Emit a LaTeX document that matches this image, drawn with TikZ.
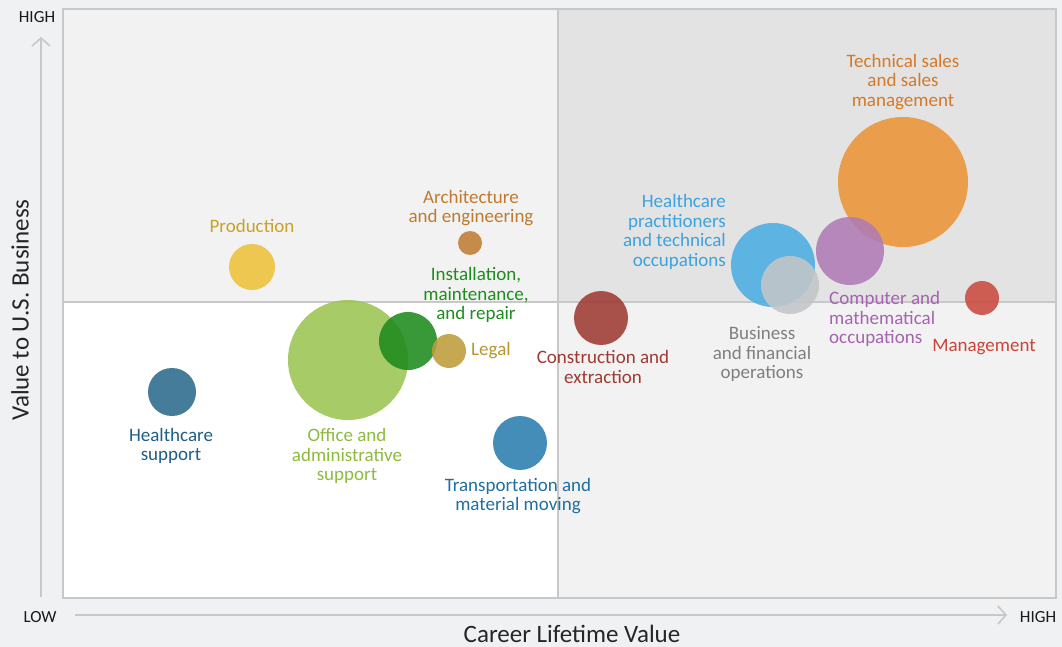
\documentclass[tikz,border=0pt]{standalone}
\usepackage{fontspec}
\setmainfont{Carlito}
\usetikzlibrary{arrows.meta}
\definecolor{bgout}{HTML}{F0F1F3}
\definecolor{qlight}{HTML}{F2F2F2}
\definecolor{qdark}{HTML}{E3E3E3}
\definecolor{frame}{HTML}{C8C8C8}
\definecolor{cProd}{HTML}{EDC23A}
\definecolor{tProd}{HTML}{C9A128}
\definecolor{cArch}{HTML}{C17C35}
\definecolor{tArch}{HTML}{C07A30}
\definecolor{cHcs}{HTML}{2B6A8C}
\definecolor{tHcs}{HTML}{1F5F87}
\definecolor{cOff}{HTML}{9BC553}
\definecolor{tOff}{HTML}{8CBB3D}
\definecolor{cInst}{HTML}{1E8B1E}
\definecolor{tInst}{HTML}{1E8C1E}
\definecolor{cLeg}{HTML}{BE9C3A}
\definecolor{tLeg}{HTML}{B8962E}
\definecolor{cTrans}{HTML}{2B7EB0}
\definecolor{tTrans}{HTML}{1F6FA0}
\definecolor{cCons}{HTML}{9E3B34}
\definecolor{tCons}{HTML}{9E3A33}
\definecolor{cHcp}{HTML}{4BAEE3}
\definecolor{tHcp}{HTML}{3BA3DE}
\definecolor{cBus}{HTML}{C3C6C8}
\definecolor{tBus}{HTML}{7F7F7F}
\definecolor{cComp}{HTML}{AF7BB5}
\definecolor{tComp}{HTML}{A563B0}
\definecolor{cTech}{HTML}{EB9536}
\definecolor{tTech}{HTML}{D37A28}
\definecolor{cMgmt}{HTML}{CA4A3F}
\definecolor{tMgmt}{HTML}{C9453A}
\begin{document}
\begin{tikzpicture}[x=1pt,y=-1pt,
  bub/.style={circle,inner sep=0pt,minimum size=#1,fill opacity=0.88,draw=none},
  lab/.style={inner sep=0pt,align=center,font=\fontsize{19}{19.5}\selectfont},
  axlab/.style={inner sep=0pt,font=\fontsize{17}{17}\selectfont,text=black!90},
  axtitle/.style={inner sep=0pt,font=\fontsize{25}{25}\selectfont,text=black!85},
  axarrow/.style={draw=frame,line width=1.6pt,-{Straight Barb[length=8pt,width=18pt,line width=1.6pt]}}]
% background
\fill[bgout] (0,0) rectangle (1062,647);
\useasboundingbox (0,0) rectangle (1062,647);
% quadrants
\fill[qlight] (63,9) rectangle (558,302);
\fill[qdark] (558,9) rectangle (1056,302);
\fill[white] (63,302) rectangle (558,598);
\fill[qlight] (558,302) rectangle (1056,598);
\draw[frame,line width=2.5pt] (63,9) rectangle (1056,598);
\draw[frame,line width=2.5pt] (558,9) -- (558,598);
\draw[frame,line width=2.5pt] (63,302) -- (1056,302);
% axes
\coordinate (ys) at (41,597);
\coordinate (ye) at (41,37);
\coordinate (xs) at (75,615);
\coordinate (xe) at (1007,615);
\draw[axarrow] (ys) -- (ye);
\draw[axarrow] (xs) -- (xe);
\node[axlab] (yhigh) at (37,17) {HIGH};
\node[axlab] (xlow) at (40,617) {LOW};
\node[axlab] (xhigh) at (1038,617) {HIGH};
\node[axtitle] (xtitle) at (572,634) {Career Lifetime Value};
\node[axtitle,rotate=90] (ytitle) at (20,310) {Value to U.S. Business};
% bubbles
\node[bub=46pt,fill=cProd] (bProd) at (252,267) {};
\node[bub=24pt,fill=cArch] (bArch) at (470,243) {};
\node[bub=48pt,fill=cHcs] (bHcs) at (172,392) {};
\node[bub=120pt,fill=cOff] (bOff) at (348,360) {};
\node[bub=58pt,fill=cInst] (bInst) at (408,341) {};
\node[bub=34pt,fill=cLeg] (bLeg) at (449,351) {};
\node[bub=54pt,fill=cTrans] (bTrans) at (520,443) {};
\node[bub=54pt,fill=cCons] (bCons) at (601,318) {};
\node[bub=84pt,fill=cHcp] (bHcp) at (773,265) {};
\node[bub=58pt,fill=cBus] (bBus) at (790,285) {};
\node[bub=130pt,fill=cTech] (bTech) at (903,182) {};
\node[bub=68pt,fill=cComp] (bComp) at (850,251) {};
\node[bub=34pt,fill=cMgmt] (bMgmt) at (982,298) {};
% labels
\node[lab,text=tProd] (lProd) at (252,226) {Production};
\node[lab,text=tArch] (lArch) at (471,208) {Architecture\\and engineering};
\node[lab,text=tInst] (lInst) at (476,295) {Installation,\\maintenance,\\and repair};
\node[lab,text=tLeg,anchor=west] (lLeg) at (471,351) {Legal};
\node[lab,text=tCons] (lCons) at (603,367) {Construction and\\extraction};
\node[lab,text=tHcp,align=right,anchor=east] (lHcp) at (726,232) {Healthcare\\practitioners\\and technical\\occupations};
\node[lab,text=tBus] (lBus) at (762,354) {Business\\and financial\\operations};
\node[lab,text=tComp,align=left,anchor=west] (lComp) at (829,319) {Computer and\\mathematical\\occupations};
\node[lab,text=tMgmt] (lMgmt) at (984,347) {Management};
\node[lab,text=tTech] (lTech) at (903,82) {Technical sales\\and sales\\management};
\node[lab,text=tHcs] (lHcs) at (171,446) {Healthcare\\support};
\node[lab,text=tOff] (lOff) at (347,456) {Office and\\administrative\\support};
\node[lab,text=tTrans] (lTrans) at (518,496) {Transportation and\\material moving};
\end{tikzpicture}
\end{document}
